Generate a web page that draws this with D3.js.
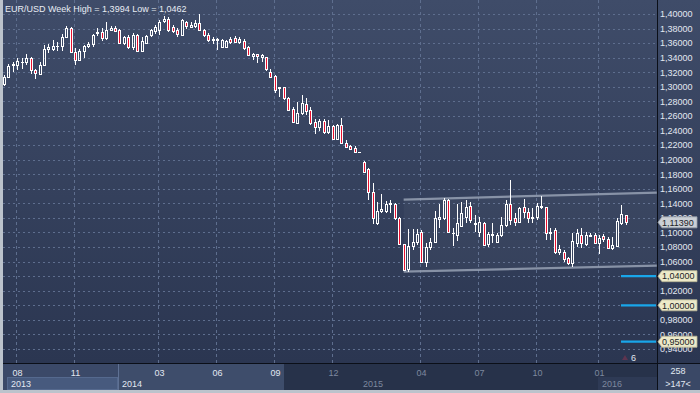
<!DOCTYPE html>
<html><head><meta charset="utf-8">
<script src="https://cdn.jsdelivr.net/npm/d3@7"></script>
<style>html,body{margin:0;padding:0;background:#2c3753;overflow:hidden}svg{display:block}</style>
</head><body>
<script>
// ---- data (weekly EUR/USD candles) ----
const opens  = [1.3040,1.3140,1.3295,1.3295,1.3340,1.3345,1.3400,1.3225,1.3180,1.3295,1.3520,1.3520,1.3555,1.3560,1.3690,1.3805,1.3485,1.3370,1.3495,1.3555,1.3590,1.3735,1.3755,1.3675,1.3780,1.3810,1.3775,1.3595,1.3685,1.3540,1.3715,1.3490,1.3600,1.3710,1.3760,1.3780,1.3905,1.3930,1.3825,1.3780,1.3710,1.3895,1.3826,1.3840,1.3880,1.3780,1.3715,1.3640,1.3640,1.3550,1.3550,1.3660,1.3675,1.3612,1.3625,1.3550,1.3425,1.3450,1.3414,1.3405,1.3208,1.3145,1.2982,1.2993,1.2841,1.2690,1.2510,1.2635,1.2763,1.2680,1.2521,1.2452,1.2535,1.2375,1.2461,1.2290,1.2475,1.2223,1.2187,1.2165,1.2100,1.1971,1.1866,1.1560,1.1135,1.1290,1.1298,1.1390,1.1390,1.1193,1.0840,1.0495,1.0813,1.0872,1.1010,1.0598,1.0795,1.0872,1.1180,1.1193,1.1445,1.0987,1.0964,1.1088,1.1216,1.1362,1.1115,1.1010,1.1124,1.0841,1.0964,1.0873,1.0964,1.1101,1.1390,1.1193,1.1138,1.1344,1.1285,1.1193,1.1207,1.1344,1.1344,1.0996,1.1033,1.0726,1.0735,1.0644,1.0584,1.0859,1.0964,1.0841,1.0950,1.0964,1.0859,1.0950,1.0905,1.0781,1.0813,1.1134,1.1234];
const highs  = [1.3165,1.3310,1.3345,1.3400,1.3395,1.3452,1.3410,1.3240,1.3340,1.3570,1.3590,1.3645,1.3620,1.3730,1.3833,1.3815,1.3530,1.3520,1.3580,1.3620,1.3730,1.3810,1.3810,1.3893,1.3830,1.3830,1.3790,1.3700,1.3705,1.3740,1.3730,1.3690,1.3715,1.3800,1.3850,1.3915,1.3967,1.3964,1.3850,1.3805,1.3930,1.3905,1.3895,1.3920,1.3994,1.3790,1.3735,1.3690,1.3670,1.3660,1.3645,1.3680,1.3700,1.3680,1.3650,1.3560,1.3462,1.3455,1.3445,1.3415,1.3240,1.3160,1.2999,1.3000,1.2865,1.2718,1.2790,1.2887,1.2840,1.2718,1.2553,1.2555,1.2555,1.2545,1.2475,1.2490,1.2570,1.2270,1.2200,1.2185,1.2102,1.1985,1.1880,1.1679,1.1424,1.1534,1.1435,1.1450,1.1399,1.1216,1.0845,1.1043,1.1052,1.1050,1.1033,1.0850,1.0918,1.1290,1.1392,1.1467,1.1454,1.1060,1.1385,1.1420,1.1440,1.1422,1.1239,1.1216,1.1147,1.1010,1.1124,1.0987,1.1216,1.1445,1.1714,1.1262,1.1353,1.1460,1.1330,1.1330,1.1399,1.1495,1.1353,1.1056,1.1056,1.0827,1.0758,1.0667,1.0990,1.1042,1.1056,1.1010,1.0996,1.0987,1.0964,1.0978,1.0941,1.0941,1.1193,1.1376,1.1239];
const lows   = [1.3010,1.3130,1.3200,1.3230,1.3240,1.3300,1.3180,1.3105,1.3160,1.3280,1.3460,1.3490,1.3490,1.3490,1.3680,1.3480,1.3296,1.3360,1.3400,1.3530,1.3550,1.3700,1.3625,1.3640,1.3760,1.3760,1.3590,1.3575,1.3525,1.3510,1.3480,1.3475,1.3590,1.3680,1.3720,1.3710,1.3870,1.3750,1.3740,1.3690,1.3700,1.3795,1.3805,1.3805,1.3760,1.3680,1.3615,1.3585,1.3505,1.3530,1.3535,1.3585,1.3600,1.3585,1.3510,1.3420,1.3367,1.3333,1.3345,1.3215,1.3135,1.2920,1.2860,1.2825,1.2670,1.2500,1.2500,1.2615,1.2612,1.2480,1.2358,1.2400,1.2358,1.2358,1.2268,1.2270,1.2220,1.2165,1.2130,1.2095,1.2098,1.1820,1.1450,1.1115,1.1098,1.1270,1.1262,1.1262,1.1170,1.0827,1.0475,1.0462,1.0760,1.0825,1.0585,1.0520,1.0758,1.0860,1.1060,1.1170,1.0990,1.0818,1.0887,1.1070,1.1124,1.1124,1.1010,1.0941,1.0813,1.0795,1.0850,1.0850,1.0941,1.1078,1.1101,1.1087,1.1124,1.1193,1.1124,1.1124,1.1170,1.1317,1.0895,1.0895,1.0703,1.0690,1.0598,1.0560,1.0524,1.0795,1.0781,1.0813,1.0941,1.0841,1.0711,1.0873,1.0778,1.0758,1.0808,1.1101,1.1101];
const closes = [1.3140,1.3290,1.3320,1.3350,1.3345,1.3400,1.3225,1.3185,1.3300,1.3525,1.3540,1.3565,1.3560,1.3685,1.3805,1.3485,1.3365,1.3495,1.3555,1.3590,1.3705,1.3755,1.3675,1.3780,1.3810,1.3770,1.3595,1.3685,1.3540,1.3715,1.3490,1.3635,1.3695,1.3775,1.3825,1.3890,1.3930,1.3780,1.3760,1.3720,1.3915,1.3840,1.3848,1.3872,1.3780,1.3715,1.3645,1.3660,1.3660,1.3640,1.3625,1.3620,1.3620,1.3660,1.3530,1.3437,1.3455,1.3420,1.3437,1.3240,1.3140,1.2950,1.2992,1.2841,1.2680,1.2521,1.2640,1.2780,1.2672,1.2500,1.2452,1.2535,1.2383,1.2461,1.2280,1.2475,1.2225,1.2180,1.2148,1.2104,1.2100,1.1834,1.1560,1.1205,1.1298,1.1317,1.1390,1.1408,1.1193,1.0840,1.0485,1.0813,1.0872,1.0978,1.0598,1.0795,1.0872,1.1193,1.1207,1.1445,1.1010,1.0996,1.1124,1.1262,1.1353,1.1170,1.1124,1.1147,1.0827,1.0978,1.0978,1.0964,1.1101,1.1390,1.1170,1.1147,1.1330,1.1285,1.1193,1.1207,1.1362,1.1362,1.0996,1.1010,1.0735,1.0772,1.0630,1.0584,1.0886,1.0987,1.0859,1.0964,1.0964,1.0859,1.0918,1.0905,1.0781,1.0827,1.1161,1.1253,1.1139];

const yTickValues = [1.40,1.38,1.36,1.34,1.32,1.30,1.28,1.26,1.24,1.22,1.20,1.18,1.16,1.14,1.12,1.10,1.08,1.06,1.04,1.02,1.00,0.98,0.96,0.94];
const monthTickIdx    = [3,16,35,48,61,74,94,107,120,134];
const monthTickLabels = ["08","11","03","06","09","12","04","07","10","01"];
const monthTickBright = [true,true,true,true,true,false,false,false,false,false];
const yearLabels   = ["2013","2014","2015","2016"];
const levelValues  = [1.04, 1.00, 0.95];
const lastPrice    = 1.1139;
const channelIdx   = [90, 147];
const channelUpper = [1.1452, 1.1548];
const channelLower = [1.0463, 1.0545];
const titleText = "EUR/USD Week High = 1,3994 Low = 1,0462";

// ---- layout ----
const W = 700, H = 393;
const plotL = 3, plotR = 657, plotT = 0, plotB = 363, axisB = 390;
const FONT = "'Liberation Sans', Arial, sans-serif";

const x = d3.scaleLinear().domain([0, 140]).range([4, 625.7]);
const y = d3.scaleLinear().domain([0.94, 1.40]).range([349, 14]);
const fmt = v => d3.format(".5f")(v).replace(".", ",");

const svg = d3.select("body").append("svg").attr("width", W).attr("height", H)
  .style("font-family", FONT);

const defs = svg.append("defs");
const g1 = defs.append("linearGradient").attr("id","bg").attr("x1",0).attr("y1",0).attr("x2",0).attr("y2",1);
g1.append("stop").attr("offset","0%").attr("stop-color","#3f4c69");
g1.append("stop").attr("offset","100%").attr("stop-color","#2b3651");

// background
svg.append("rect").attr("x",0).attr("y",0).attr("width",W).attr("height",plotB).attr("fill","url(#bg)");

// horizontal grid
svg.append("g").selectAll("line").data(yTickValues).join("line")
  .attr("x1", plotL).attr("x2", plotR)
  .attr("y1", d => Math.round(y(d)) + 0.5).attr("y2", d => Math.round(y(d)) + 0.5)
  .attr("stroke", "#5e6e8e").attr("stroke-dasharray", "2,3");

// vertical grid
svg.append("g").selectAll("line").data(monthTickIdx).join("line")
  .attr("x1", d => Math.round(x(d)) - 0.5).attr("x2", d => Math.round(x(d)) - 0.5)
  .attr("y1", plotT).attr("y2", plotB)
  .attr("stroke", "#5e6e8e").attr("stroke-dasharray", "3,3");

// channel
const chX0 = x(channelIdx[0]), chX1 = Math.min(x(channelIdx[1]), plotR);
svg.append("path")
  .attr("d", `M${chX0},${y(channelUpper[0])}L${chX1},${y(channelUpper[1])}L${chX1},${y(channelLower[1])}L${chX0},${y(channelLower[0])}Z`)
  .attr("fill", "#ffffff").attr("fill-opacity", 0.03);
[channelUpper, channelLower].forEach(vals => {
  svg.append("line")
    .attr("x1", chX0).attr("y1", y(vals[0])).attr("x2", chX1).attr("y2", y(vals[1]))
    .attr("stroke", "#97a1b4").attr("stroke-width", 2.2).attr("stroke-opacity", 0.85);
});

// candles
const candles = opens.map((o, i) => ({i, o, h: highs[i], l: lows[i], c: closes[i]}));
const cg = svg.append("g");
candles.forEach(d => {
  const cx = Math.round(x(d.i));
  const top = Math.round(y(Math.max(d.o, d.c)));
  const bot = Math.round(y(Math.min(d.o, d.c)));
  const yh = Math.round(y(d.h)), yl = Math.round(y(d.l));
  const up = d.c >= d.o;
  if (yh < top) cg.append("line").attr("x1", cx + 0.5).attr("x2", cx + 0.5).attr("y1", yh).attr("y2", top).attr("stroke", "#fff");
  if (yl > bot) cg.append("line").attr("x1", cx + 0.5).attr("x2", cx + 0.5).attr("y1", bot + 1).attr("y2", yl).attr("stroke", "#fff");
  if (bot - top < 1) {
    cg.append("line").attr("x1", cx - 1).attr("x2", cx + 2).attr("y1", top + 0.5).attr("y2", top + 0.5).attr("stroke", "#fff");
  } else {
    cg.append("rect").attr("x", cx - 0.5).attr("y", top + 0.5).attr("width", 2).attr("height", bot - top)
      .attr("fill", up ? "none" : "#e8102f").attr("stroke", "#fff").attr("stroke-width", 1);
  }
});

// level lines (blue)
svg.append("g").selectAll("line").data(levelValues).join("line")
  .attr("x1", 621).attr("x2", plotR - 1)
  .attr("y1", d => y(d)).attr("y2", d => y(d))
  .attr("stroke", "#19a6ea").attr("stroke-width", 2.2);

// right axis column
svg.append("line").attr("x1", plotR + 0.5).attr("x2", plotR + 0.5).attr("y1", 0).attr("y2", axisB).attr("stroke", "#0b0f18");

// axis labels (those sitting exactly under a level tag are covered by the tag itself)
svg.append("g").selectAll("text").data(yTickValues.filter(v => !levelValues.some(l => Math.abs(l - v) < 1e-9))).join("text")
  .attr("x", 660).attr("y", d => y(d) + 3.3)
  .attr("font-size", 9).attr("fill", "#e2e8f2").text(fmt);

// tags
function tag(v, fill, stroke) {
  const yc = y(v);
  const g = svg.append("g");
  g.append("path")
    .attr("d", `M${plotR + 1},${yc}L${plotR + 5},${yc - 5.5}L${697},${yc - 5.5}L${697},${yc + 5.5}L${plotR + 5},${yc + 5.5}Z`)
    .attr("fill", fill).attr("stroke", stroke).attr("stroke-width", 0.8);
  g.append("text").attr("x", 662).attr("y", yc + 3.3).attr("font-size", 9).attr("fill", "#1b1f28").text(fmt(v));
}
tag(lastPrice, "#cbd0d6", "#9aa1ab");
levelValues.forEach(v => tag(v, "#ece9c9", "#b9b596"));

// time axis strip
svg.append("rect").attr("x", 0).attr("y", plotB).attr("width", W).attr("height", axisB - plotB).attr("fill", "#27324a");
const xSec1 = Math.round(x(monthTickIdx[2])) - 41;   // start of 2014 block
const xSec2 = Math.round(x(monthTickIdx[4])) + 9;    // start of 2015 block
const x2016 = Math.round(x(monthTickIdx[9])) - 1;
svg.append("rect").attr("x", plotL).attr("y", plotB).attr("width", xSec1 - plotL).attr("height", axisB - plotB).attr("fill", "#3b4968");
svg.append("rect").attr("x", 7.5).attr("y", 377.5).attr("width", xSec1 - 8).attr("height", 12).attr("fill", "#475a7e").attr("stroke", "#55698e");
svg.append("rect").attr("x", xSec1).attr("y", plotB).attr("width", xSec2 - xSec1).attr("height", axisB - plotB).attr("fill", "#3e4d6b");
svg.append("line").attr("x1", xSec1 + 0.5).attr("x2", xSec1 + 0.5).attr("y1", plotB).attr("y2", axisB).attr("stroke", "#5f7194");
svg.append("rect").attr("x", x2016).attr("y", 377).attr("width", plotR - x2016).attr("height", 13).attr("fill", "#2e3a55");
svg.append("rect").attr("x", plotR + 1).attr("y", plotB).attr("width", W - plotR - 1).attr("height", axisB - plotB).attr("fill", "#3a4866");
svg.append("line").attr("x1", plotL).attr("x2", W).attr("y1", plotB + 0.5).attr("y2", plotB + 0.5).attr("stroke", "#0b0f18");
svg.append("line").attr("x1", plotR + 0.5).attr("x2", plotR + 0.5).attr("y1", plotB).attr("y2", axisB).attr("stroke", "#0b0f18");

svg.append("g").selectAll("text").data(monthTickIdx).join("text")
  .attr("x", d => Math.round(x(d)) + 0.5).attr("y", 375.5).attr("text-anchor", "middle")
  .attr("font-size", 9).attr("fill", (d, i) => monthTickBright[i] ? "#e2e8f2" : "#7d889e")
  .text((d, i) => monthTickLabels[i]);

const yearX = [11, xSec1 + 4, xSec2 + 79, x2016 + 4];
svg.append("g").selectAll("text").data(yearLabels).join("text")
  .attr("x", (d, i) => yearX[i]).attr("y", 387)
  .attr("font-size", 9).attr("fill", (d, i) => i < 2 ? "#e2e8f2" : "#7d889e").text(d => d);

svg.append("text").attr("x", 678).attr("y", 374).attr("text-anchor", "middle").attr("font-size", 9).attr("fill", "#e2e8f2").text("258");
svg.append("text").attr("x", 678).attr("y", 387).attr("text-anchor", "middle").attr("font-size", 9).attr("fill", "#e2e8f2").text(">147<");

// bar-count marker
svg.append("path").attr("d", "M622,360L625,355L628,360Z").attr("fill", "#5e3550");
svg.append("text").attr("x", 631).attr("y", 361).attr("font-size", 9).attr("fill", "#e2e8f2").text("6");

// title
svg.append("text").attr("x", 5).attr("y", 11.5).attr("font-size", 9).attr("fill", "#e8edf4").text(titleText);

// outer frame
svg.append("rect").attr("x", 0).attr("y", 0).attr("width", 3).attr("height", H).attr("fill", "#bcc3cc");
svg.append("rect").attr("x", 0).attr("y", axisB).attr("width", W).attr("height", H - axisB).attr("fill", "#bcc3cc");
</script>
</body></html>
